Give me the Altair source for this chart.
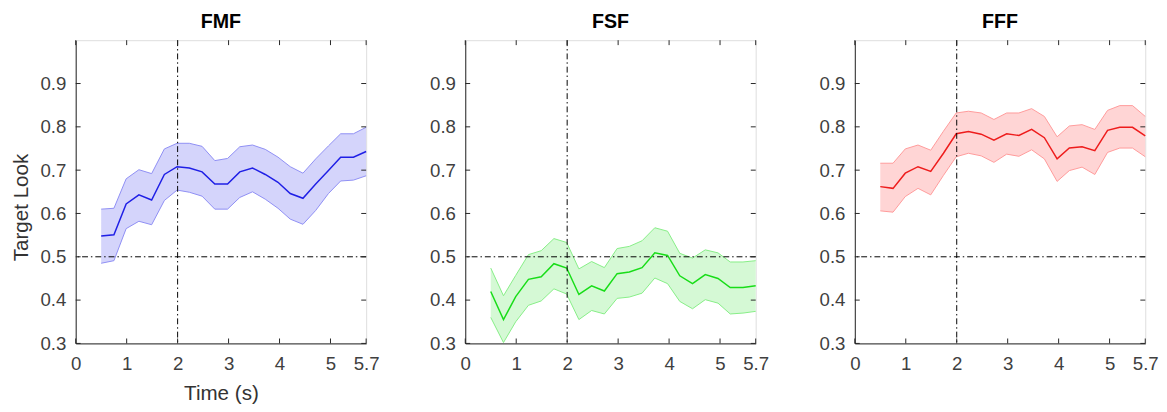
import altair as alt
import pandas as pd

# ---------------- data ----------------
time_s = [0.50, 0.75, 0.99, 1.24, 1.49, 1.74, 1.99, 2.23, 2.48, 2.73, 2.98,
          3.22, 3.47, 3.72, 3.97, 4.21, 4.46, 4.71, 4.96, 5.20, 5.45, 5.70]

fmf_mean = [0.548, 0.551, 0.622, 0.643, 0.631, 0.690, 0.708, 0.705, 0.696, 0.668, 0.668,
            0.696, 0.705, 0.690, 0.672, 0.646, 0.635, 0.668, 0.699, 0.730, 0.730, 0.743]
fmf_upper = [0.610, 0.612, 0.680, 0.701, 0.692, 0.749, 0.762, 0.762, 0.755, 0.722, 0.727,
             0.754, 0.758, 0.748, 0.730, 0.708, 0.693, 0.726, 0.756, 0.784, 0.784, 0.799]
fmf_lower = [0.485, 0.491, 0.565, 0.582, 0.574, 0.630, 0.654, 0.649, 0.640, 0.610, 0.610,
             0.637, 0.650, 0.633, 0.612, 0.587, 0.575, 0.607, 0.646, 0.675, 0.677, 0.687]

fsf_mean = [0.420, 0.355, 0.408, 0.448, 0.454, 0.484, 0.474, 0.413, 0.433, 0.421, 0.461,
            0.465, 0.475, 0.509, 0.503, 0.456, 0.438, 0.459, 0.450, 0.429, 0.429, 0.433]
fsf_upper = [0.474, 0.410, 0.457, 0.505, 0.514, 0.542, 0.533, 0.472, 0.489, 0.475, 0.519,
             0.524, 0.537, 0.567, 0.559, 0.508, 0.497, 0.516, 0.509, 0.488, 0.488, 0.491]
fsf_lower = [0.360, 0.302, 0.350, 0.388, 0.398, 0.426, 0.414, 0.355, 0.376, 0.368, 0.404,
             0.407, 0.416, 0.451, 0.438, 0.397, 0.380, 0.401, 0.393, 0.368, 0.370, 0.374]

fff_mean = [0.662, 0.658, 0.693, 0.708, 0.697, 0.739, 0.784, 0.789, 0.783, 0.769, 0.784,
            0.780, 0.794, 0.775, 0.726, 0.751, 0.754, 0.745, 0.792, 0.799, 0.799, 0.779]
fff_upper = [0.716, 0.716, 0.749, 0.758, 0.746, 0.790, 0.832, 0.836, 0.832, 0.817, 0.832,
             0.832, 0.842, 0.824, 0.777, 0.802, 0.805, 0.794, 0.838, 0.849, 0.849, 0.824]
fff_lower = [0.606, 0.603, 0.639, 0.658, 0.643, 0.688, 0.731, 0.739, 0.733, 0.718, 0.737,
             0.732, 0.747, 0.726, 0.674, 0.699, 0.707, 0.690, 0.741, 0.751, 0.751, 0.731]

panel_titles = ["FMF", "FSF", "FFF"]
x_ticks = [0, 1, 2, 3, 4, 5, 5.7]
y_ticks = [0.3, 0.4, 0.5, 0.6, 0.7, 0.8, 0.9]
ref_time = [2]
ref_chance = [0.5]

# ---------------- styling ----------------
W, H = 296, 309
TICK = 5
AX = "#262626"
FONT = "Liberation Sans"
series = [
    (fmf_mean, fmf_upper, fmf_lower, "#1f1fe6", "#d4d4fb", "#8e8ef4"),
    (fsf_mean, fsf_upper, fsf_lower, "#18dd18", "#d5f9d5", "#86ee86"),
    (fff_mean, fff_upper, fff_lower, "#ee1c1c", "#ffd5d5", "#ff9a9a"),
]
xscale = alt.Scale(domain=[0, 5.7], nice=False, zero=False)
yscale = alt.Scale(domain=[0.3, 1.0], nice=False, zero=False)


def panel(i):
    mean, up, lo, line_c, fill_c, edge_c = series[i]
    df = pd.DataFrame({"t": time_s, "m": mean, "u": up, "l": lo})
    xt = "Time (s)" if i == 0 else None
    yt = "Target Look" if i == 0 else None
    xaxis = alt.Axis(values=x_ticks, labelExpr="datum.value", tickSize=0,
                     grid=False, labelPadding=12, titlePadding=9,
                     domainColor=AX, labelColor="#404040", titleColor="#333333",
                     labelFontSize=19, titleFontSize=21, labelFont=FONT,
                     titleFont=FONT, titleFontWeight="normal", labelFlush=False,
                     title=xt)
    yaxis = alt.Axis(values=y_ticks, format=".1f", tickSize=0, grid=False,
                     labelPadding=10, titlePadding=9, domainColor=AX,
                     labelColor="#404040", titleColor="#333333", labelFontSize=19,
                     titleFontSize=21, labelFont=FONT, titleFont=FONT,
                     titleFontWeight="normal", labelFlush=False,
                     titleY=170, title=yt)
    base = alt.Chart(df)
    x = alt.X("t:Q", scale=xscale, axis=xaxis)
    band = base.mark_area(color=fill_c, opacity=1).encode(
        x=x, y=alt.Y("l:Q", scale=yscale, axis=yaxis), y2="u:Q")
    upper = base.mark_line(color=edge_c, strokeWidth=1).encode(
        x=x, y=alt.Y("u:Q", scale=yscale, axis=yaxis))
    lower = base.mark_line(color=edge_c, strokeWidth=1).encode(
        x=x, y=alt.Y("l:Q", scale=yscale, axis=yaxis))
    meanl = base.mark_line(color=line_c, strokeWidth=1.5).encode(
        x=x, y=alt.Y("m:Q", scale=yscale, axis=yaxis))
    dash = [6, 3, 1.5, 3]
    vref = alt.Chart(pd.DataFrame({"t": ref_time})).mark_rule(
        color="black", strokeWidth=1, strokeDash=dash).encode(
        x=alt.X("t:Q", scale=xscale, axis=xaxis))
    href = alt.Chart(pd.DataFrame({"v": ref_chance})).mark_rule(
        color="black", strokeWidth=1, strokeDash=dash).encode(
        y=alt.Y("v:Q", scale=yscale, axis=yaxis))
    xt_df = pd.DataFrame({"t": x_ticks})
    yt_df = pd.DataFrame({"v": y_ticks})
    xb = alt.Chart(xt_df).mark_rule(color=AX).encode(
        x=alt.X("t:Q", scale=xscale, axis=xaxis), y=alt.value(H), y2=alt.value(H - TICK))
    xtop = alt.Chart(xt_df).mark_rule(color=AX).encode(
        x=alt.X("t:Q", scale=xscale, axis=xaxis), y=alt.value(0), y2=alt.value(TICK))
    yl = alt.Chart(yt_df).mark_rule(color=AX).encode(
        y=alt.Y("v:Q", scale=yscale, axis=yaxis), x=alt.value(0), x2=alt.value(TICK))
    yr = alt.Chart(yt_df).mark_rule(color=AX).encode(
        y=alt.Y("v:Q", scale=yscale, axis=yaxis), x=alt.value(W), x2=alt.value(W - TICK))
    return alt.layer(band, upper, lower, meanl, vref, href, xb, xtop, yl, yr).properties(
        width=W, height=H,
        title=alt.TitleParams(panel_titles[i], fontSize=20, fontWeight="bold",
                              font=FONT, color="black", offset=8),
    )


chart = alt.hconcat(panel(0), panel(1), panel(2), spacing=50).properties(
    padding={"left": 2, "top": 0, "right": 0, "bottom": 0}
).configure_view(stroke=AX, strokeWidth=1).configure(background="white")

chart.save("out.html", embed_options={"renderer": "svg", "actions": False})
